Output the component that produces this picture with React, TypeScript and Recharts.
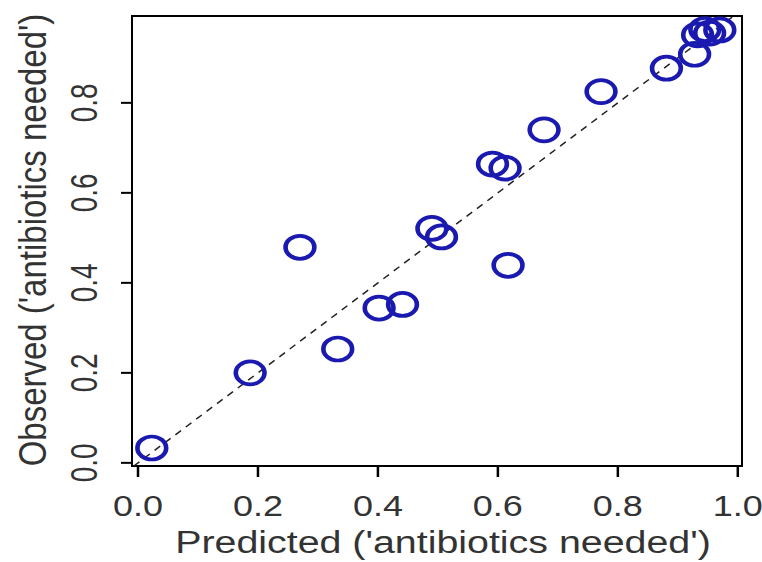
import { ScatterChart, Scatter, XAxis, YAxis, ReferenceLine, ReferenceArea } from 'recharts';

const predicted = [0.023, 0.187, 0.27, 0.333, 0.402, 0.441, 0.49, 0.506, 0.591, 0.612, 0.617, 0.677, 0.772, 0.881, 0.928, 0.933, 0.945, 0.953, 0.97];
const observed = [0.033, 0.2, 0.479, 0.253, 0.344, 0.352, 0.521, 0.502, 0.664, 0.655, 0.439, 0.74, 0.825, 0.877, 0.908, 0.951, 0.963, 0.955, 0.962];
const tickValues = [0, 0.2, 0.4, 0.6, 0.8, 1.0];

const xDomain: [number, number] = [-0.01, 1.007];
const yDomain: [number, number] = [-0.007, 0.993];

const FONT = '"Liberation Sans", Arial, sans-serif';
const TEXT = '#333';
const POINT = '#1a1ab0';
// the device is wider than it is tall, so glyphs and rings are stretched sideways
const STRETCH = 1.3;

const points = predicted.map((p, i) => ({ predicted: p, observed: observed[i] }));

function Ring(props: any) {
  const { cx, cy } = props;
  return (
    <circle
      r={11.5}
      transform={`translate(${cx}, ${cy}) scale(1.25, 1)`}
      fill="none"
      stroke={POINT}
      strokeWidth={3.7}
    />
  );
}

function XTick(props: any) {
  const { x, y, payload } = props;
  return (
    <text transform={`translate(${x}, ${y + 37}) scale(1.2, 1)`} textAnchor="middle" fontFamily={FONT} fontSize={30} fill={TEXT}>
      {payload.value.toFixed(1)}
    </text>
  );
}

function YTick(props: any) {
  const { y, payload } = props;
  return (
    <text
      transform={`translate(85, ${y}) scale(${STRETCH}, 1) rotate(-90)`}
      textAnchor="middle"
      dominantBaseline="central"
      fontFamily={FONT}
      fontSize={28}
      fill={TEXT}
    >
      {payload.value.toFixed(1)}
    </text>
  );
}

function XTitle(props: any) {
  const { viewBox } = props;
  const cx = viewBox.x + viewBox.width / 2 + 6;
  return (
    <text transform={`translate(${cx}, 553) scale(1.27, 1)`} textAnchor="middle" fontFamily={FONT} fontSize={31} fill={TEXT}>
      Predicted ('antibiotics needed')
    </text>
  );
}

function YTitle(props: any) {
  const { viewBox } = props;
  const cy = viewBox.y + viewBox.height / 2 - 1;
  return (
    <text
      transform={`translate(32, ${cy}) scale(1.2, 1) rotate(-90)`}
      textAnchor="middle"
      dominantBaseline="central"
      fontFamily={FONT}
      fontSize={33}
      fill={TEXT}
    >
      Observed ('antibiotics needed')
    </text>
  );
}

export default function App() {
  return (
    <div style={{ position: 'absolute', left: 0, top: 0, background: '#fff' }}>
      <ScatterChart width={762} height={562} margin={{ top: 16, right: 20, left: 0, bottom: 0 }}>
        <XAxis
          type="number"
          dataKey="predicted"
          domain={xDomain}
          ticks={tickValues}
          allowDataOverflow
          axisLine={false}
          tickLine={{ stroke: '#000', strokeWidth: 2.5 }}
          tickSize={11}
          height={96}
          tick={<XTick />}
          label={<XTitle />}
        />
        <YAxis
          type="number"
          dataKey="observed"
          domain={yDomain}
          ticks={tickValues.slice(0, 5)}
          allowDataOverflow
          axisLine={false}
          tickLine={{ stroke: '#000', strokeWidth: 2 }}
          tickSize={11}
          width={132}
          tick={<YTick />}
          label={<YTitle />}
        />
        <ReferenceArea x1={xDomain[0]} x2={xDomain[1]} y1={yDomain[0]} y2={yDomain[1]} fill="none" stroke="#000" strokeWidth={2} fillOpacity={0} />
        <ReferenceLine
          segment={[{ x: yDomain[0], y: yDomain[0] }, { x: yDomain[1], y: yDomain[1] }]}
          stroke="#222"
          strokeWidth={1.5}
          strokeDasharray="7 6"
        />
        <Scatter data={points} shape={<Ring />} isAnimationActive={false} />
      </ScatterChart>
    </div>
  );
}
